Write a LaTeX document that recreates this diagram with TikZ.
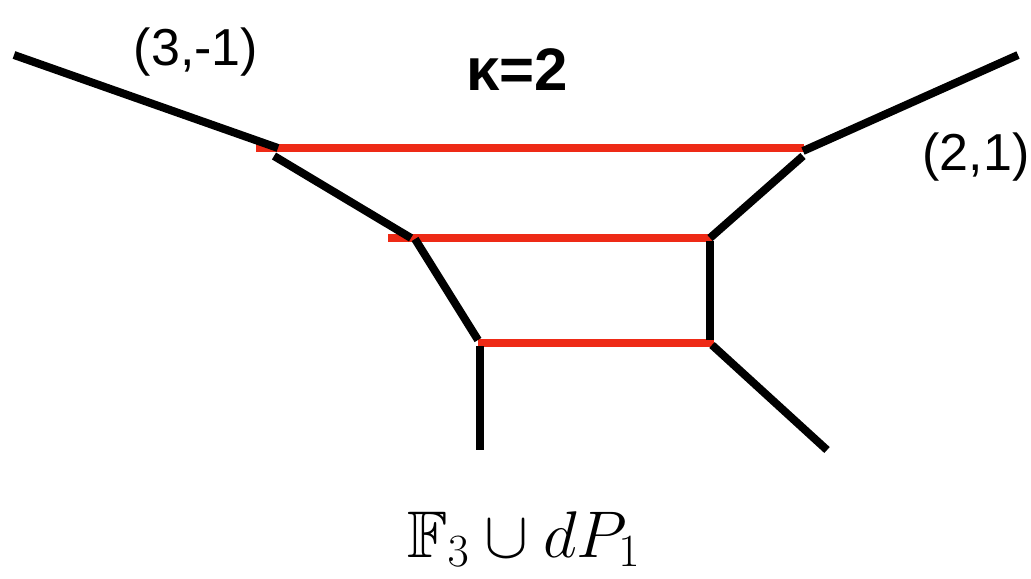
\RequirePackage{fix-cm}
\documentclass[tikz,border=0pt]{standalone}
\usepackage{amssymb}
\usepackage{fontspec}
\usepackage{tikz}
\usetikzlibrary{calc}
\newfontfamily\webLabelFont{Liberation Sans}
\definecolor{webInk}{HTML}{000000}
\definecolor{webRed}{HTML}{EE2A16}
\tikzset{
  webLeg/.style={draw=webInk, line width=4pt},
  webRung/.style={draw=webRed, line width=3.6pt},
  webCharge/.style={font=\webLabelFont\fontsize{26}{30}\selectfont, anchor=base, inner sep=0pt},
  webTitle/.style={font=\webLabelFont\bfseries\fontsize{30}{34}\selectfont, anchor=base, inner sep=0pt},
  webFormula/.style={font=\fontsize{33}{38}\selectfont, anchor=base, inner sep=0pt}
}

\begin{document}
\begin{tikzpicture}[x=0.5pt, y=-0.5pt]
    \useasboundingbox (0,0) rectangle (1031,578);

    % vertices of the web (pixel grid of the reference)
    \coordinate (farL)  at (14,55);
    \coordinate (topL)  at (278,148);
    \coordinate (topLb) at (274,156);
    \coordinate (midL)  at (411,238);
    \coordinate (midLb) at (415,239);
    \coordinate (botL)  at (478,340);
    \coordinate (botLb) at (480,346);
    \coordinate (endL)  at (480,450);
    \coordinate (farR)  at (1018,55);
    \coordinate (topR)  at (803,151);
    \coordinate (topRb) at (803,156);
    \coordinate (midR)  at (710,238);
    \coordinate (midRb) at (710,241);
    \coordinate (botR)  at (710,340);
    \coordinate (botRb) at (712,345);
    \coordinate (endR)  at (827,450);

    \coordinate (rungTopL) at (256,148);
    \coordinate (rungTopR) at (804,148);
    \coordinate (rungMidL) at (388,238);
    \coordinate (rungMidR) at (712,238);
    \coordinate (rungBotL) at (478,343);
    \coordinate (rungBotR) at (714,343);

    % red rungs
    \draw[webRung] (rungTopL) -- (rungTopR);
    \draw[webRung] (rungMidL) -- (rungMidR);
    \draw[webRung] (rungBotL) -- (rungBotR);

    % black legs
    \draw[webLeg] (farL) -- (topL);
    \draw[webLeg] (topLb) -- (midL);
    \draw[webLeg] (midLb) -- (botL);
    \draw[webLeg] (botLb) -- (endL);
    \draw[webLeg] (topR) -- (farR);
    \draw[webLeg] (topRb) -- (midR);
    \draw[webLeg] (midRb) -- (botR);
    \draw[webLeg] (botRb) -- (endR);

    \node[webCharge] (chargeL) at (196,65) {(3,-1)};
    \node[webCharge] (chargeR) at (976,170) {(2,1)};
    \node[webTitle] (kappa) at (517,90) {κ=2};
    \node[webFormula] (geom) at (524,557) {$\mathbb{F}_3\cup dP_1$};
\end{tikzpicture}
\end{document}
